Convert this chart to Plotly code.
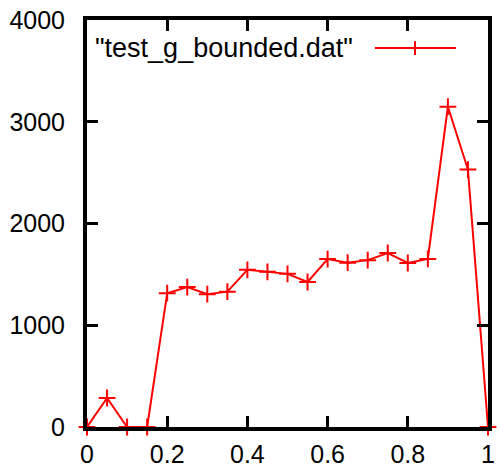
import plotly.graph_objects as go

x_vals = [0.0, 0.05, 0.1, 0.15, 0.2, 0.25, 0.3, 0.35, 0.4, 0.45, 0.5,
          0.55, 0.6, 0.65, 0.7, 0.75, 0.8, 0.85, 0.9, 0.95, 1.0]
y_vals = [0, 285, 0, 0, 1315, 1375, 1305, 1330, 1545, 1525, 1505,
          1425, 1650, 1615, 1640, 1710, 1612, 1652, 3148, 2530, 0]
x_ticks = [0, 0.2, 0.4, 0.6, 0.8, 1.0]
x_tick_text = ["0", "0.2", "0.4", "0.6", "0.8", "1"]
y_ticks = [0, 1000, 2000, 3000, 4000]
y_tick_text = ["0", "1000", "2000", "3000", "4000"]
series_name = '"test_g_bounded.dat"'

RED = "#ff0000"
FONT = "Liberation Sans, Arial, Helvetica, sans-serif"

fig = go.Figure()
fig.add_trace(go.Scatter(
    x=x_vals, y=y_vals, mode="lines+markers",
    line=dict(color=RED, width=2),
    marker=dict(symbol="cross-thin", size=12, line=dict(color=RED, width=2), color=RED),
    cliponaxis=False, showlegend=False, name=series_name,
))

axis_common = dict(
    showline=True, linecolor="black", linewidth=4, mirror="allticks",
    ticks="inside", ticklen=11, tickwidth=3, tickcolor="black",
    showgrid=False, zeroline=False, automargin=False,
    tickfont=dict(family=FONT, size=25, color="black"),
)
fig.update_xaxes(range=[0, 1], tickvals=x_ticks, ticktext=x_tick_text,
                 ticklabelstandoff=2, **axis_common)
fig.update_yaxes(range=[0, 4000], tickvals=y_ticks, ticktext=y_tick_text,
                 ticklabelstandoff=13, **axis_common)

# gnuplot-style key: text then sample line with marker
fig.add_annotation(xref="paper", yref="paper", x=0.015, y=0.931, xanchor="left",
                   yanchor="middle", text=series_name, showarrow=False,
                   font=dict(family=FONT, size=27, color="black"))
fig.add_shape(type="line", xref="paper", yref="paper", x0=0.718, x1=0.92,
              y0=0.931, y1=0.931, line=dict(color=RED, width=2))
fig.add_shape(type="line", xref="paper", yref="paper", x0=0.818, x1=0.818,
              y0=0.914, y1=0.948, line=dict(color=RED, width=2))

fig.update_layout(
    width=497, height=468,
    margin=dict(l=87, r=9, t=20, b=41),
    plot_bgcolor="white", paper_bgcolor="white",
    showlegend=False,
)
fig.write_html("out.html", config={"displayModeBar": False},
               post_script="document.body.style.margin='0px';document.body.style.padding='0px';")
